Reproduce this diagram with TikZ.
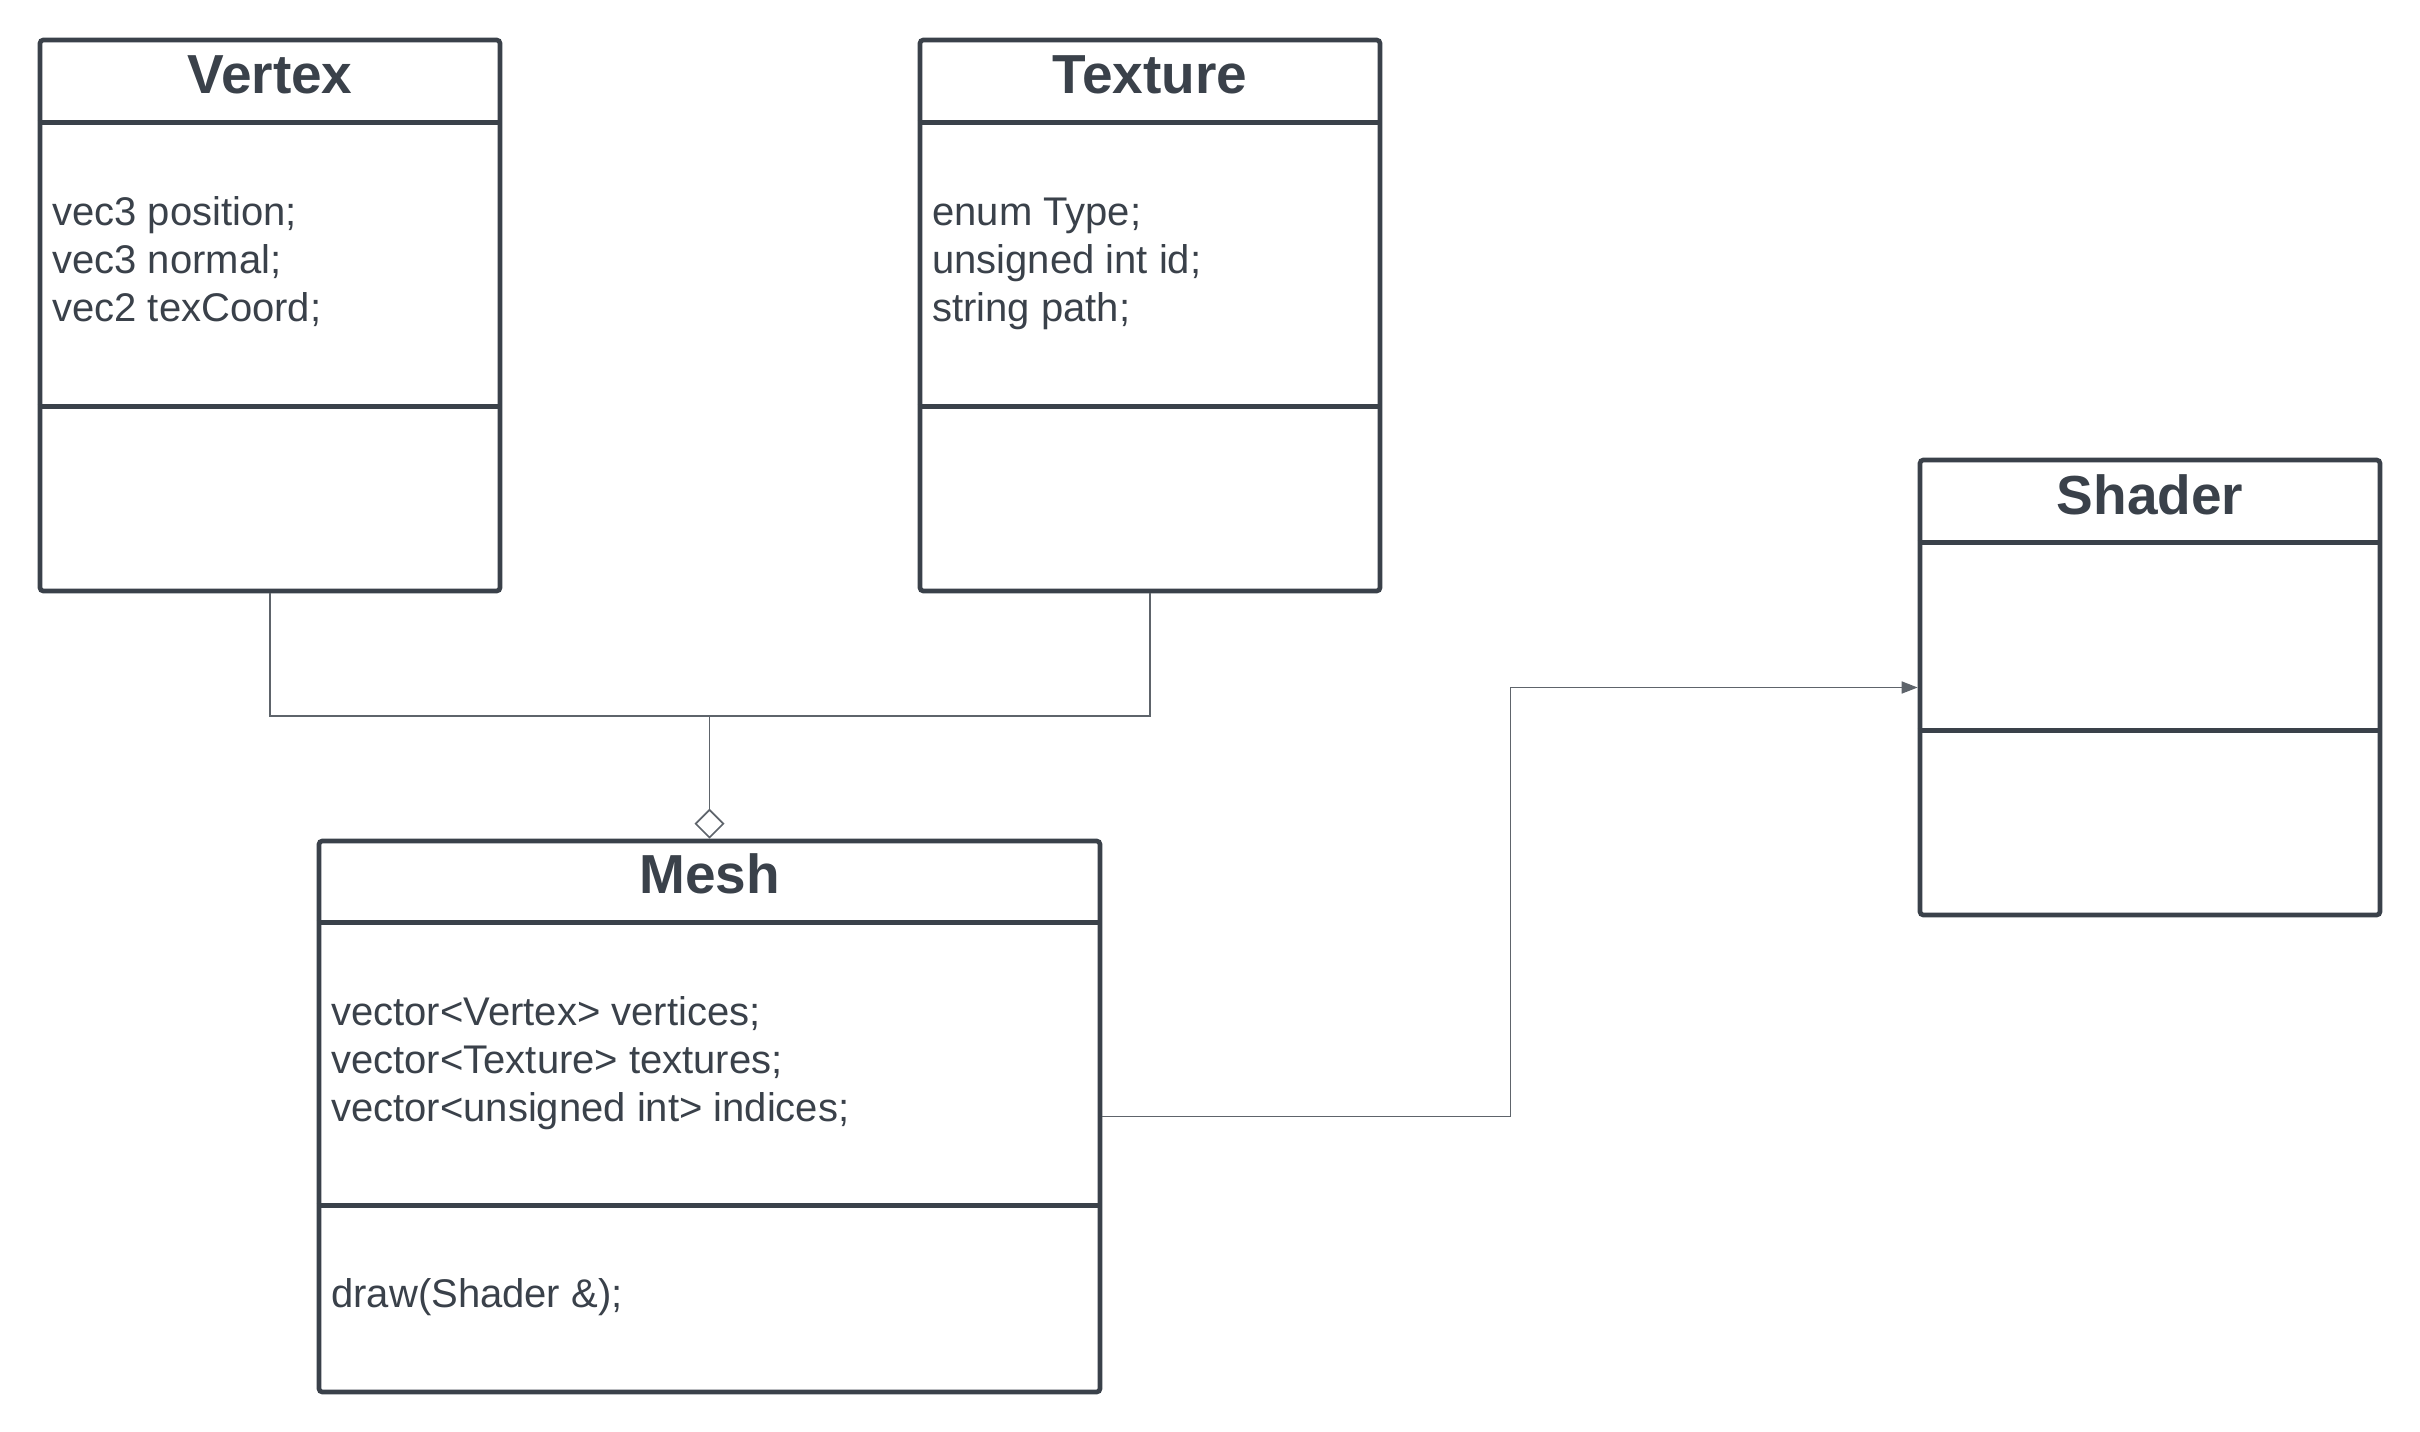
\documentclass[tikz,border=0pt]{standalone}
\usepackage{fontspec}
\setmainfont{Liberation Sans}
\usepackage{tikz}
\usetikzlibrary{arrows.meta, positioning, calc}
\definecolor{umlink}{HTML}{3A414A}
\definecolor{umlgray}{HTML}{5E646B}

\begin{document}
\begin{tikzpicture}[x=0.3pt, y=-0.3pt,
    classbox/.style={draw=umlink, line width=1.4pt, rounded corners=1pt, fill=white, inner sep=0pt},
    classline/.style={draw=umlink, line width=1.4pt},
    title/.style={text=umlink, font=\fontsize{16.5}{20}\selectfont\bfseries, inner sep=0pt},
    attrs/.style={text=umlink, font=\fontsize{12}{14.4}\selectfont, align=left, anchor=west, inner sep=0pt},
    link/.style={draw=umlgray, line width=0.5pt}]
        \useasboundingbox (0,0) rectangle (2420,1432);

        % Vertex
        \node[classbox, minimum width=138pt, minimum height=165.3pt] (vertex) at (270,315.5) {};
        \draw[classline] ($(vertex.north west)+(0,85)$) -- ($(vertex.north east)+(0,85)$);
        \draw[classline] ($(vertex.north west)+(0,369)$) -- ($(vertex.north east)+(0,369)$);
        \node[title] (vertex-name) at ($(vertex.north)+(0,37)$) {Vertex};
        \node[attrs] (vertex-attrs) at ($(vertex.north west)+(14,226)$) {\strut vec3 position;\\vec3 normal;\\vec2 texCoord;\strut};

        % Texture
        \node[classbox, minimum width=138pt, minimum height=165.3pt] (texture) at (1150,315.5) {};
        \draw[classline] ($(texture.north west)+(0,85)$) -- ($(texture.north east)+(0,85)$);
        \draw[classline] ($(texture.north west)+(0,369)$) -- ($(texture.north east)+(0,369)$);
        \node[title] (texture-name) at ($(texture.north)+(0,37)$) {Texture};
        \node[attrs] (texture-attrs) at ($(texture.north west)+(14,226)$) {\strut enum Type;\\unsigned int id;\\string path;\strut};

        % Shader
        \node[classbox, minimum width=138pt, minimum height=136.5pt] (shader) at (2150,687.5) {};
        \draw[classline] ($(shader.north west)+(0,85)$) -- ($(shader.north east)+(0,85)$);
        \draw[classline] ($(shader.north west)+(0,273)$) -- ($(shader.north east)+(0,273)$);
        \node[title] (shader-name) at ($(shader.north)+(0,37)$) {Shader};

        % Mesh
        \node[classbox, minimum width=234.3pt, minimum height=165.3pt] (mesh) at (709.5,1116.5) {};
        \draw[classline] ($(mesh.north west)+(0,84)$) -- ($(mesh.north east)+(0,84)$);
        \draw[classline] ($(mesh.north west)+(0,367)$) -- ($(mesh.north east)+(0,367)$);
        \node[title] (mesh-name) at ($(mesh.north)+(0,35)$) {Mesh};
        \node[attrs] (mesh-attrs) at ($(mesh.north west)+(14,225)$) {\strut vector<Vertex> vertices;\\vector<Texture> textures;\\vector<unsigned int> indices;\strut};
        \node[attrs] (mesh-ops) at ($(mesh.north west)+(14,459)$) {\strut draw(Shader \&);};

        % Aggregation
        \coordinate (join) at (709.5,716);
        \draw[link] (vertex.south) -- (vertex.south |- join) -- (texture.south |- join) -- (texture.south);
        \draw[link, -{Diamond[open, length=9pt, width=9pt, line width=0.5pt]}] (join) -- (mesh.north);

        % Association
        \draw[link, -{Triangle[length=4.8pt, width=3.6pt]}] (mesh.east) -- ++(408,0) |- (shader.west);
    \end{tikzpicture}
\end{document}
